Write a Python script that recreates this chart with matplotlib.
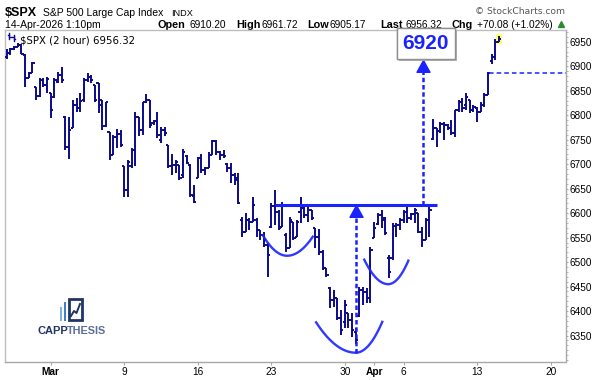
import numpy as np
import pandas as pd
import matplotlib
matplotlib.use("Agg")
import matplotlib.pyplot as plt
from matplotlib.patches import Rectangle
from matplotlib.path import Path
import matplotlib.patheffects as pe

plt.rcParams["font.family"] = ["Liberation Sans", "DejaVu Sans"]

BAR = "#0b0b8c"
BLUE = "#1a22ff"
GREY = "#a8a8a8"

# 2-hour bars, 4 per session; Apr 3 closed (Good Friday); Apr 14 still trading
sessions = [d for d in pd.bdate_range("2026-02-25", "2026-04-24")
            if d != pd.Timestamp("2026-04-03")]
bars_per_session = 4

opens = [6919, 6927, 6935, 6939, 6943, 6923, 6876, 6886,
         6858, 6839, 6872, 6862, 6845, 6837, 6868, 6882,
         6796, 6735, 6774, 6821, 6815, 6831, 6872, 6878,
         6862, 6866, 6831, 6778, 6766, 6719, 6755, 6762,
         6696, 6647, 6696, 6729, 6796, 6770, 6827, 6831,
         6784, 6788, 6749, 6770, 6739, 6696, 6698, 6698,
         6678, 6716, 6698, 6635, 6672, 6713, 6688, 6692,
         6719, 6747, 6725, 6719, 6700, 6692, 6678, 6672,
         6586, 6562, 6586, 6582, 6586, 6566, 6555, 6535,
         6572, 6615, 6602, 6572, 6555, 6529, 6582, 6551,
         6602, 6611, 6596, 6607, 6570, 6551, 6521, 6488,
         6447, 6423, 6427, 6386, 6378, 6396, 6382, 6358,
         6390, 6443, 6439, 6427, 6549, 6578, 6596, 6586,
         6508, 6508, 6574, 6576, 6586, 6602, 6590, 6598,
         6600, 6562, 6545, 6586, 6751, 6774, 6768, 6782,
         6780, 6774, 6764, 6811, 6827, 6821, 6831, 6811,
         6815, 6807, 6821, 6841, 6910.20, 6918, 6950]
highs = [6935, 6937, 6941, 6947, 6945, 6925, 6888, 6909,
         6858, 6876, 6876, 6878, 6845, 6876, 6888, 6898,
         6798, 6796, 6831, 6835, 6845, 6876, 6886, 6882,
         6862, 6866, 6831, 6827, 6766, 6760, 6772, 6770,
         6696, 6709, 6733, 6807, 6796, 6827, 6843, 6831,
         6790, 6807, 6776, 6776, 6739, 6721, 6709, 6698,
         6731, 6718, 6700, 6658, 6715, 6721, 6694, 6725,
         6749, 6749, 6727, 6729, 6702, 6702, 6682, 6682,
         6592, 6600, 6590, 6633, 6590, 6566, 6562, 6539,
         6621, 6647, 6607, 6623, 6559, 6592, 6582, 6586,
         6633, 6613, 6613, 6607, 6570, 6568, 6525, 6488,
         6449, 6443, 6427, 6402, 6423, 6396, 6396, 6366,
         6449, 6449, 6447, 6531, 6582, 6600, 6607, 6592,
         6515, 6580, 6580, 6590, 6607, 6615, 6600, 6611,
         6600, 6572, 6590, 6615, 6792, 6774, 6786, 6786,
         6782, 6790, 6811, 6831, 6835, 6845, 6831, 6821,
         6817, 6827, 6845, 6888, 6925, 6955, 6961.72]
lows = [6915, 6923, 6933, 6939, 6925, 6858, 6876, 6886,
        6831, 6837, 6858, 6845, 6794, 6835, 6866, 6866,
        6729, 6711, 6774, 6807, 6807, 6827, 6868, 6866,
        6827, 6805, 6770, 6776, 6709, 6719, 6733, 6735,
        6633, 6633, 6692, 6696, 6758, 6760, 6825, 6774,
        6780, 6753, 6743, 6758, 6692, 6678, 6682, 6668,
        6672, 6700, 6633, 6621, 6672, 6682, 6678, 6692,
        6719, 6719, 6709, 6713, 6684, 6662, 6658, 6619,
        6551, 6562, 6566, 6582, 6551, 6545, 6531, 6470,
        6570, 6576, 6566, 6572, 6521, 6529, 6545, 6551,
        6580, 6590, 6582, 6586, 6529, 6515, 6484, 6470,
        6407, 6409, 6382, 6351, 6366, 6366, 6347, 6333,
        6388, 6413, 6417, 6417, 6549, 6576, 6570, 6555,
        6468, 6504, 6551, 6566, 6580, 6580, 6586, 6580,
        6559, 6531, 6545, 6551, 6749, 6735, 6764, 6749,
        6770, 6760, 6755, 6807, 6807, 6811, 6805, 6807,
        6786, 6807, 6817, 6841, 6905.17, 6913, 6949]
closes = [6927, 6935, 6939, 6943, 6925, 6876, 6886, 6907,
          6839, 6872, 6862, 6874, 6811, 6872, 6882, 6872,
          6735, 6770, 6821, 6815, 6829, 6872, 6878, 6872,
          6831, 6821, 6778, 6827, 6719, 6755, 6762, 6739,
          6647, 6705, 6729, 6796, 6770, 6827, 6831, 6780,
          6788, 6760, 6770, 6764, 6696, 6698, 6705, 6672,
          6725, 6702, 6637, 6623, 6713, 6688, 6692, 6719,
          6747, 6725, 6719, 6717, 6692, 6678, 6668, 6621,
          6562, 6586, 6582, 6617, 6566, 6555, 6545, 6515,
          6615, 6602, 6570, 6617, 6529, 6586, 6549, 6582,
          6611, 6596, 6607, 6590, 6551, 6521, 6488, 6474,
          6423, 6427, 6386, 6362, 6413, 6382, 6362, 6340,
          6443, 6439, 6427, 6525, 6570, 6596, 6590, 6559,
          6480, 6574, 6576, 6586, 6602, 6590, 6598, 6607,
          6562, 6545, 6586, 6607, 6774, 6768, 6782, 6780,
          6774, 6764, 6811, 6827, 6815, 6837, 6811, 6817,
          6807, 6821, 6841, 6886.24, 6918, 6950, 6956.32]

prev_close = 6886.24
neckline = 6617
target = 6920

tick_dates = ["2026-03-02", "2026-03-09", "2026-03-16", "2026-03-23", "2026-03-30",
              "2026-04-01", "2026-04-06", "2026-04-13", "2026-04-20"]
tick_labels = ["Mar", "9", "16", "23", "30", "Apr", "6", "13", "20"]
y_ticks = list(range(6350, 6951, 50))

# pattern sketch (bar index / price): neckline span, measured-move arrows, arcs
neck_span = (73.0, 117.0)
move_arrows = [(95.0, 6315, neckline), (113.2, neckline, 6913)]
arcs = [(69.7, 76.3, 83.3, 6555, 6513, 6552),
        (84.2, 95.0, 102.2, 6377, 6315, 6378),
        (97.3, 103.8, 109.3, 6505, 6455, 6503)]

idx = np.arange(len(opens))
session_pos = {d.strftime("%Y-%m-%d"): i * bars_per_session for i, d in enumerate(sessions)}

W, H = 594, 380
fig = plt.figure(figsize=(W / 100, H / 100), dpi=100)
ax = fig.add_axes([5 / W, (H - 362) / H, (566 - 5) / W, (362 - 30) / H])

# highlight on the live bar
ax.add_patch(Rectangle((idx[-1] - 0.75, lows[-1] - 4), 1.5, highs[-1] - lows[-1] + 8,
                       fc="#ffff66", ec="none", zorder=1))

ax.vlines(idx, lows, highs, color=BAR, lw=1.4, zorder=3)
ax.hlines(opens, idx - 0.6, idx, color=BAR, lw=1.4, zorder=3)
ax.hlines(closes, idx, idx + 0.6, color=BAR, lw=1.4, zorder=3)

# neckline
ax.plot(neck_span, [neckline, neckline], color=BLUE, lw=2.2, solid_capstyle="butt", zorder=4)

# arcs
for x0, xb, x1, y0, yb, y1 in arcs:
    xl = np.linspace(x0, xb, 40)
    xr = np.linspace(xb, x1, 40)
    yl = yb + (y0 - yb) * ((xl - xb) / (x0 - xb)) ** 2
    yr = yb + (y1 - yb) * ((xr - xb) / (x1 - xb)) ** 2
    ax.plot(np.r_[xl, xr], np.r_[yl, yr], color=BLUE, lw=1.7, alpha=0.9, zorder=4)

# measured-move arrows
head = Path([(0, 0), (-1.1, -2), (1.1, -2), (0, 0)], closed=True)
for x, y0, y1 in move_arrows:
    ax.plot([x, x], [y0, y1 - 20], color=BLUE, lw=1.8, dashes=(1.8, 1.1), zorder=4)
    ax.plot([x], [y1], marker=head, ms=17, color=BLUE, mec=BLUE, zorder=5, clip_on=False)

# previous close
ax.plot([idx[-4] + 0.2, 152.2], [prev_close, prev_close], color=BLUE, lw=1.1,
        dashes=(3, 2), zorder=4)

# target box
t = ax.text(114.0, 6947, f"{target}", ha="center", va="center", fontsize=15,
            fontweight="bold", color=BLUE, zorder=6, clip_on=False,
            bbox=dict(boxstyle="square,pad=0.28", fc="white", ec="#8f8f8f", lw=1))
t.get_bbox_patch().set_path_effects([pe.withSimplePatchShadow(offset=(2, -2),
                                     shadow_rgbFace="#b0b0b0", alpha=0.9), pe.Normal()])

ax.set_xlim(-0.46, 152.2)
ax.set_ylim(6296, 6974)

ax.set_xticks([session_pos[d] for d in tick_dates])
ax.set_xticklabels(tick_labels)
for lab in ax.get_xticklabels():
    if lab.get_text() in ("Mar", "Apr"):
        lab.set_fontweight("bold")
ax.set_yticks(y_ticks)
ax.yaxis.tick_right()
ax.set_yticks(range(6300, 6971, 10), minor=True)
ax.tick_params(axis="x", labelsize=7.3, length=2, color=GREY, pad=1.5)
ax.tick_params(axis="y", which="major", labelsize=7.2, length=1.5, color=GREY, pad=0.8)
ax.tick_params(axis="y", which="minor", length=1.2, color=GREY)

for side in ("left", "top"):
    ax.spines[side].set_color("#bdbdbd")
    ax.spines[side].set_linewidth(1)
for side in ("bottom", "right"):
    ax.spines[side].set_color(GREY)
    ax.spines[side].set_linestyle((0, (1, 1)))
    ax.spines[side].set_linewidth(1)

# header, legend and logo in pixel coordinates
ov = fig.add_axes([0, 0, 1, 1], zorder=-1)
ov.set_xlim(0, W)
ov.set_ylim(H, 0)
ov.axis("off")

ov.text(5, 15.5, "$SPX", fontsize=9, fontweight="bold", va="baseline")
ov.text(43, 15.5, "S&P 500 Large Cap Index", fontsize=7.5, va="baseline")
ov.text(171, 15.5, "INDX", fontsize=6.6, va="baseline")
ov.text(565, 13.5, "\u00a9 StockCharts.com", fontsize=6.6, color="#555555",
        ha="right", va="baseline", family="DejaVu Sans")

ov.text(5, 27.5, "14-Apr-2026 1:10pm", fontsize=7.5, va="baseline")
header = [(158, "Open", True), (190, "6910.20", False), (236, "High", True),
          (262, "6961.72", False), (307, "Low", True), (330, "6905.17", False),
          (380, "Last", True), (406, "6956.32", False), (452, "Chg", True),
          (477, "+70.08 (+1.02%)", False)]
for x, s, bold in header:
    ov.text(x, 27.5, s, fontsize=7.8 if bold else 7.3,
            fontweight="bold" if bold else "normal", va="baseline")
ov.plot([561], [24], marker="^", ms=4.5, color="#2e8b2e", mec="#2e8b2e")

ax.text(0.027, 0.982, "$SPX (2 hour) 6956.32", transform=ax.transAxes, fontsize=7.3,
        va="top", family="DejaVu Sans", zorder=6)
for bx, top, bot in [(9, 33, 39), (13.5, 35, 41)]:
    ax.plot([bx, bx], [top, bot], transform=ov.transData, color=BAR, lw=1, clip_on=False)
    ax.plot([bx - 1.5, bx], [top + 2, top + 2], transform=ov.transData, color=BAR, lw=1, clip_on=False)
    ax.plot([bx, bx + 1.5], [bot - 2, bot - 2], transform=ov.transData, color=BAR, lw=1, clip_on=False)

logo = fig.add_axes([0, 0, 1, 1], zorder=5)
logo.set_xlim(0, W)
logo.set_ylim(H, 0)
logo.axis("off")
logo.add_patch(Rectangle((59.5, 307), 2.5, 13.5, fc="#7fb2e5", ec="none"))
logo.add_patch(Rectangle((63.5, 302), 2.5, 18.5, fc="#3f82c8", ec="none"))
logo.add_patch(Rectangle((68.5, 299), 13.5, 21, fc="white", ec="#1f3566", lw=2))
logo.plot([71, 74, 76.5, 80], [316, 311, 313, 304], color="#1f3566", lw=1.4)
logo.text(37, 334, "CAPP", fontsize=8, fontweight="bold", color="#1f3566", va="baseline")
logo.text(66.5, 334, "THESIS", fontsize=7.8, fontweight="bold", color="#5a6f96", va="baseline")

fig.savefig("out.png", dpi=100)
